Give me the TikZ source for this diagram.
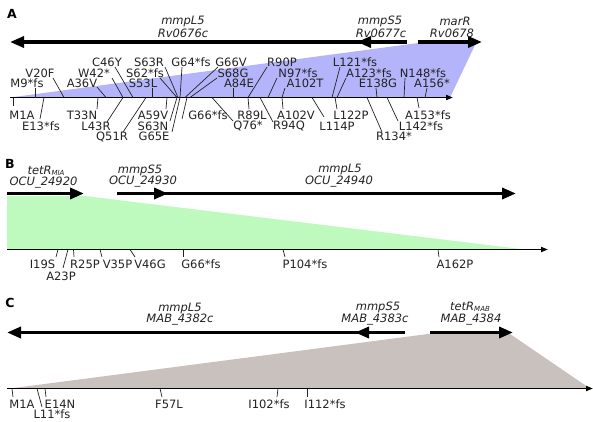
\documentclass[tikz,border=0pt]{standalone}
\usepackage{fontspec}
\setmainfont{DejaVu Sans}
\usetikzlibrary{arrows.meta}
\definecolor{bluefill}{RGB}{180,180,251}
\definecolor{greenfill}{RGB}{190,250,190}
\definecolor{grayfill}{RGB}{200,193,190}
\definecolor{txt}{RGB}{35,35,35}
\newcommand\mymut[8]{%
  \coordinate (#1a) at (#2,#3);
  \coordinate (#1e) at (#4,#5);
  \node[lab] (#1) at (#6,#7) {#8};
  \draw[lead] (#1a) -- (#1e);}
\newcommand\subsc[1]{\raisebox{-0.2ex}{\fontsize{7}{7}\selectfont #1}}
\begin{document}
\begin{tikzpicture}[x=1pt,y=-1pt,
  lab/.style={font=\fontsize{11.5}{11.5}\selectfont, text=txt, inner sep=0pt, anchor=center},
  gname/.style={font=\fontsize{11.5}{11.5}\selectfont\itshape, text=txt, inner sep=0pt, anchor=center},
  gene/.style={line width=3.4pt, -{Triangle[length=14pt,width=11pt]}},
  axisline/.style={line width=1.8pt, -{Triangle[length=7pt,width=5pt]}},
  lead/.style={line width=0.7pt, draw=txt},
  panel/.style={font=\fontsize{12.5}{12.5}\selectfont\bfseries, inner sep=0pt, anchor=center}]
\path[use as bounding box, fill=white] (0,0) rectangle (593,421);

% ---------------- Panel A ----------------
\node[panel] (pA) at (12,14) {A};
\fill[bluefill] (10,97.5) -- (418,43) -- (476,43) -- (450,97.5) -- cycle;
\coordinate (As5) at (407,42);
\coordinate (As5t) at (357,42);
\coordinate (Al5s) at (362,42);
\coordinate (Al5t) at (10,42);
\coordinate (Amrs) at (418,42);
\coordinate (Amrt) at (482,42);
\draw[gene] (Al5s) -- (Al5t);
\draw[gene] (As5) -- (As5t);
\draw[gene] (Amrs) -- (Amrt);
\node[gname] (gAl5) at (183,21.5) {mmpL5};
\node[gname] (gAl5b) at (183,33) {Rv0676c};
\node[gname] (gAs5) at (380,21.5) {mmpS5};
\node[gname] (gAs5b) at (381,33) {Rv0677c};
\node[gname] (gAmr) at (455,21.5) {marR};
\node[gname] (gAmrb) at (452,33) {Rv0678};
\coordinate (Aax0) at (10,97.5);
\coordinate (Aax1) at (453,97.5);
\draw[axisline] (Aax0) -- (Aax1);
% upper labels
\mymut{a1}{35}{97.5}{35}{88}{27}{83}{M9*fs}
\mymut{a2}{64}{97.5}{53}{78}{40}{73}{V20F}
\mymut{a3}{106}{97.5}{97}{87}{82}{83}{A36V}
\mymut{a4}{123}{97.5}{112}{78}{94}{73}{W42*}
\mymut{a5}{133}{97.5}{115}{67}{107}{62}{C46Y}
\mymut{a6}{152}{97.5}{152}{88}{143}{83}{S53L}
\mymut{a7}{177}{97.5}{160}{78}{145}{73}{S62*fs}
\mymut{a8}{178}{97.5}{165}{67}{149}{62}{S63R}
\mymut{a9}{180}{97.5}{182}{67}{191}{62}{G64*fs}
\mymut{a10}{185}{97.5}{218}{67}{231}{62}{G66V}
\mymut{a11}{190}{97.5}{217}{78}{233}{73}{S68G}
\mymut{a12}{233}{97.5}{233}{88}{239}{83}{A84E}
\mymut{a13}{248}{97.5}{267}{67}{282}{62}{R90P}
\mymut{a14}{268}{97.5}{277}{78}{298}{73}{N97*fs}
\mymut{a15}{282}{97.5}{285}{88}{305}{83}{A102T}
\mymut{a16}{332}{97.5}{340}{67}{355}{62}{L121*fs}
\mymut{a17}{337}{97.5}{346}{78}{369}{73}{A123*fs}
\mymut{a18}{377}{97.5}{376}{88}{378}{83}{E138G}
\mymut{a19}{404}{97.5}{405}{78}{423}{73}{N148*fs}
\mymut{a20}{425}{97.5}{427}{88}{432}{83}{A156*}
% lower labels
\mymut{b1}{13}{97.5}{13}{106}{22}{115}{M1A}
\mymut{b2}{44}{97.5}{40}{119}{41}{126}{E13*fs}
\mymut{b3}{98}{97.5}{97}{109}{82}{115}{T33N}
\mymut{b4}{123}{97.5}{107}{122}{96}{126}{L43R}
\mymut{b5}{146}{97.5}{123}{132}{112}{136.5}{Q51R}
\mymut{b6}{167}{97.5}{166}{109}{153}{115}{A59V}
\mymut{b7}{177}{97.5}{170}{121}{153}{126}{S63N}
\mymut{b8}{180}{97.5}{172}{132}{154}{136.5}{G65E}
\mymut{b9}{187}{97.5}{182}{119}{208}{115}{G66*fs}
\mymut{b10}{212}{97.5}{233}{121}{248}{126}{Q76*}
\mymut{b11}{248}{97.5}{249}{109}{252}{115}{R89L}
\mymut{b12}{260}{97.5}{273}{122}{289}{126}{R94Q}
\mymut{b13}{282}{97.5}{283}{109}{296}{115}{A102V}
\mymut{b14}{312}{97.5}{324}{117}{337}{126}{L114P}
\mymut{b15}{335}{97.5}{337}{109}{351}{115}{L122P}
\mymut{b16}{367}{97.5}{382}{132}{394}{136.5}{R134*}
\mymut{b17}{387}{97.5}{398}{121}{421}{126}{L142*fs}
\mymut{b18}{417}{97.5}{419}{108}{428}{115}{A153*fs}

% ---------------- Panel B ----------------
\node[panel] (pB) at (10,164) {B};
\fill[greenfill] (7,196) -- (85,196) -- (525,249.5) -- (7,249.5) -- cycle;
\coordinate (Bts) at (7,193.5);
\coordinate (Btt) at (84,193.5);
\coordinate (Bss) at (117,193.5);
\coordinate (Bst) at (168,193.5);
\coordinate (Bls) at (162,193.5);
\coordinate (Blt) at (516,193.5);
\draw[gene] (Bts) -- (Btt);
\draw[gene] (Bls) -- (Blt);
\draw[gene] (Bss) -- (Bst);
\node[gname] (gBt) at (46,170.5) {tetR\subsc{MIA}};
\node[gname] (gBtb) at (43.5,182.5) {OCU\_24920};
\node[gname] (gBs) at (140,170) {mmpS5};
\node[gname] (gBsb) at (143,182) {OCU\_24930};
\node[gname] (gBl) at (340,169) {mmpL5};
\node[gname] (gBlb) at (339,181.5) {OCU\_24940};
\coordinate (Bax0) at (7,249.5);
\coordinate (Bax1) at (548,249.5);
\draw[axisline] (Bax0) -- (Bax1);
\mymut{c1}{58}{249.5}{56}{257}{42.5}{264}{I19S}
\mymut{c2}{68}{249.5}{63}{268}{61}{276}{A23P}
\mymut{c3}{73.5}{249.5}{74}{257}{85}{264}{R25P}
\mymut{c4}{100}{249.5}{102}{257}{117.5}{264}{V35P}
\mymut{c5}{130}{249.5}{135}{257}{150}{264}{V46G}
\mymut{c6}{183}{249.5}{183}{257}{201}{264}{G66*fs}
\mymut{c7}{283}{249.5}{285}{257}{305}{264}{P104*fs}
\mymut{c8}{438}{249.5}{439}{257}{455}{264}{A162P}

% ---------------- Panel C ----------------
\node[panel] (pC) at (10,303) {C};
\fill[grayfill] (10,388.5) -- (428,334) -- (510,334) -- (590,388.5) -- cycle;
\coordinate (Css) at (405,332.5);
\coordinate (Cst) at (355,332.5);
\coordinate (Cls) at (360,332.5);
\coordinate (Clt) at (7,332.5);
\coordinate (Cts) at (430,332.5);
\coordinate (Ctt) at (513,332.5);
\draw[gene] (Cls) -- (Clt);
\draw[gene] (Css) -- (Cst);
\draw[gene] (Cts) -- (Ctt);
\node[gname] (gCl) at (180,308) {mmpL5};
\node[gname] (gClb) at (180,320) {MAB\_4382c};
\node[gname] (gCs) at (378,307) {mmpS5};
\node[gname] (gCsb) at (375,320) {MAB\_4383c};
\node[gname] (gCt) at (470,307) {tetR\subsc{MAB}};
\node[gname] (gCtb) at (471,320) {MAB\_4384};
\coordinate (Cax0) at (7,388.5);
\coordinate (Cax1) at (593,388.5);
\draw[axisline] (Cax0) -- (Cax1);
\mymut{d1}{12}{388.5}{13}{397}{22}{404.5}{M1A}
\mymut{d2}{37}{388.5}{42}{407}{52}{414}{L11*fs}
\mymut{d3}{45}{388.5}{46}{397}{60}{404.5}{E14N}
\mymut{d4}{160}{388.5}{162}{397}{169}{404.5}{F57L}
\mymut{d5}{278}{388.5}{277}{397}{269}{404.5}{I102*fs}
\mymut{d6}{307}{388.5}{307}{397}{325}{404.5}{I112*fs}
\end{tikzpicture}
\end{document}
